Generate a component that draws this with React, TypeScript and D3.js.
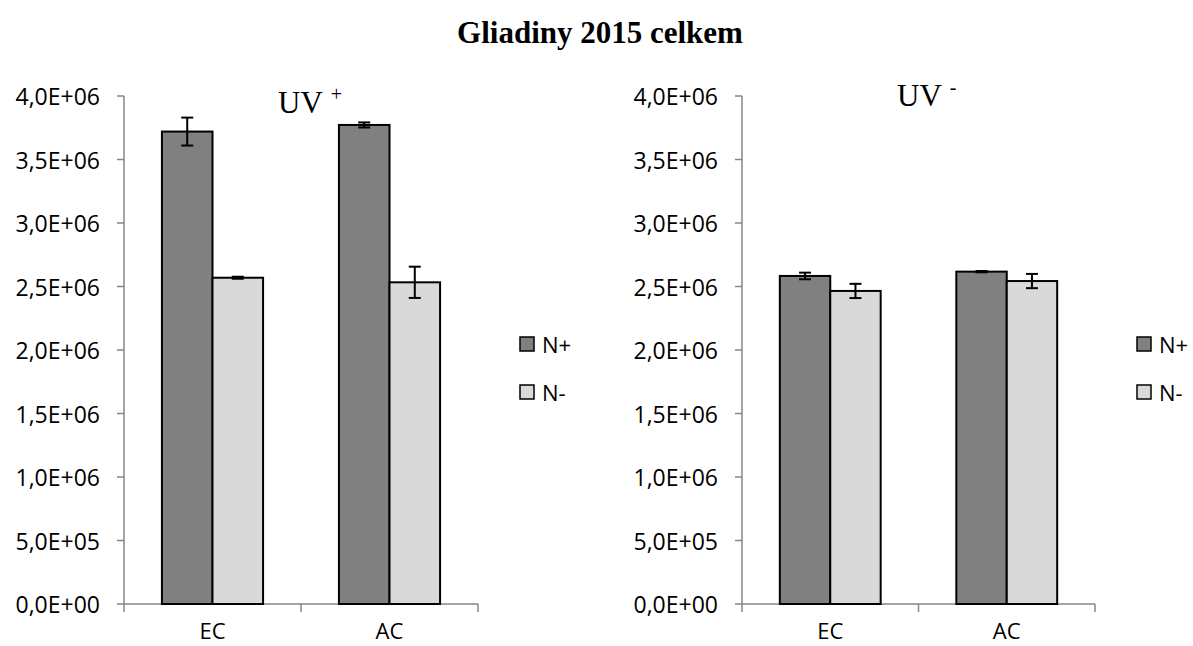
import * as d3 from 'd3'

const categories = ['EC', 'AC']
const series = ['N+', 'N-']

// UV+ panel
const uvPlusNPlus = [3.72e6, 3.772e6]
const uvPlusNMinus = [2.569e6, 2.533e6]
const uvPlusNPlusErr = [0.11e6, 0.02e6]
const uvPlusNMinusErr = [0.008e6, 0.123e6]

// UV- panel
const uvMinusNPlus = [2.583e6, 2.617e6]
const uvMinusNMinus = [2.465e6, 2.543e6]
const uvMinusNPlusErr = [0.026e6, 0.005e6]
const uvMinusNMinusErr = [0.056e6, 0.056e6]

const yTicks = [0, 5e5, 1e6, 1.5e6, 2e6, 2.5e6, 3e6, 3.5e6, 4e6]
const yTickLabels = [
  '0,0E+00',
  '5,0E+05',
  '1,0E+06',
  '1,5E+06',
  '2,0E+06',
  '2,5E+06',
  '3,0E+06',
  '3,5E+06',
  '4,0E+06',
]

const colors = ['#808080', '#d9d9d9']
const axisColor = '#868686'
const sans = "'Open Sans', sans-serif"
const serif = "'Liberation Serif', 'Times New Roman', serif"

type PanelProps = {
  left: number
  right: number
  values: number[][]
  errors: number[][]
  label: string
  sup: string
  labelX: number
  labelY: number
}

function Panel({ left, right, values, errors, label, sup, labelX, labelY }: PanelProps) {
  const top = 96
  const bottom = 604
  const y = d3.scaleLinear([0, 4e6], [bottom, top])
  const x0 = d3.scaleBand(categories, [left, right]).padding(0)
  const x1 = d3
    .scaleBand(series, [0, x0.bandwidth()])
    .paddingInner(0)
    .paddingOuter(0.75)

  const legendX = right + 42
  const legendY = [344, 392]

  return (
    <g>
      {/* y axis */}
      <line x1={left} x2={left} y1={top} y2={bottom} stroke={axisColor} strokeWidth={1.5} />
      {yTicks.map((t, i) => (
        <g key={t}>
          <line x1={left - 7} x2={left} y1={y(t)} y2={y(t)} stroke={axisColor} strokeWidth={1.5} />
          <text
            x={left - 24}
            y={y(t)}
            textAnchor="end"
            dominantBaseline="central"
            fontFamily={sans}
            fontSize={23}
          >
            {yTickLabels[i]}
          </text>
        </g>
      ))}
      {/* x axis */}
      <line x1={left} x2={right} y1={bottom} y2={bottom} stroke={axisColor} strokeWidth={1.5} />
      {[...categories.map((c) => x0(c)!), right].map((xv, i) => (
        <line key={i} x1={xv} x2={xv} y1={bottom} y2={bottom + 8} stroke={axisColor} strokeWidth={1.5} />
      ))}
      {categories.map((c) => (
        <text
          key={c}
          x={x0(c)! + x0.bandwidth() / 2}
          y={639}
          textAnchor="middle"
          fontFamily={sans}
          fontSize={22}
        >
          {c}
        </text>
      ))}
      {/* bars */}
      {categories.map((c, ci) =>
        series.map((s, si) => {
          const v = values[si][ci]
          const e = errors[si][ci]
          const bx = x0(c)! + x1(s)!
          const cx = bx + x1.bandwidth() / 2
          return (
            <g key={c + s}>
              <rect
                x={bx}
                y={y(v)}
                width={x1.bandwidth()}
                height={y(0) - y(v)}
                fill={colors[si]}
                stroke="#000"
                strokeWidth={2}
              />
              <g stroke="#000" strokeWidth={2}>
                <line x1={cx} x2={cx} y1={y(v + e)} y2={y(v - e)} />
                <line x1={cx - 6} x2={cx + 6} y1={y(v + e)} y2={y(v + e)} />
                <line x1={cx - 6} x2={cx + 6} y1={y(v - e)} y2={y(v - e)} />
              </g>
            </g>
          )
        }),
      )}
      {/* panel label */}
      <text x={labelX} y={labelY} fontFamily={serif} fontSize={31}>
        {label}
        <tspan fontSize={20} dx={8} dy={-12}>
          {sup}
        </tspan>
      </text>
      {/* legend */}
      {series.map((s, si) => (
        <g key={s}>
          <rect
            x={legendX}
            y={legendY[si] - 7}
            width={14}
            height={14}
            fill={colors[si]}
            stroke="#000"
            strokeWidth={1.5}
          />
          <text
            x={legendX + 22}
            y={legendY[si]}
            dominantBaseline="central"
            fontFamily={sans}
            fontSize={22}
          >
            {s}
          </text>
        </g>
      ))}
    </g>
  )
}

export default function App() {
  const width = 1193
  const height = 646
  return (
    <svg
      width={width}
      height={height}
      style={{ position: 'absolute', left: 0, top: 0, background: '#fff' }}
    >
      <rect width={width} height={height} fill="#fff" />
      <text
        x={600}
        y={43}
        textAnchor="middle"
        fontFamily={serif}
        fontWeight="bold"
        fontSize={31}
      >
        Gliadiny 2015 celkem
      </text>
      <Panel
        left={124}
        right={478}
        values={[uvPlusNPlus, uvPlusNMinus]}
        errors={[uvPlusNPlusErr, uvPlusNMinusErr]}
        label="UV"
        sup="+"
        labelX={278}
        labelY={113}
      />
      <Panel
        left={742}
        right={1095}
        values={[uvMinusNPlus, uvMinusNMinus]}
        errors={[uvMinusNPlusErr, uvMinusNMinusErr]}
        label="UV"
        sup="-"
        labelX={897}
        labelY={106}
      />
    </svg>
  )
}
